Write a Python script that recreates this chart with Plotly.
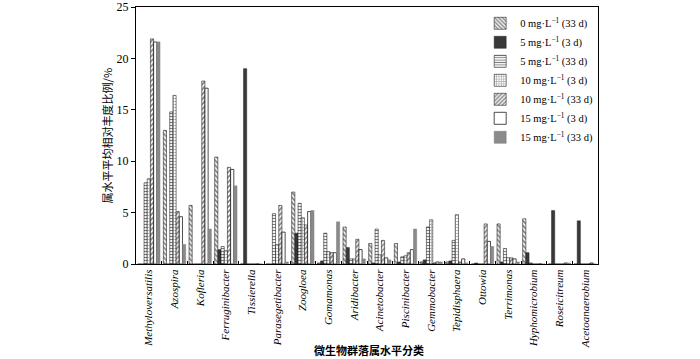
import plotly.graph_objects as go

categories = ["Methyloversatilis", "Azospira", "Kofleria", "Ferruginibacter", "Tissierella",
              "Parasegetibacter", "Zoogloea", "Gomamonas", "Aridibacter", "Acinetobacter",
              "Piscinibacter", "Gemmobacter", "Tepidisphaera", "Ottowia", "Terrimonas",
              "Hyphomicrobium", "Roseicitreum", "Acetoanaerobium"]

series_names = ["0 mg·L<sup>−1</sup> (33 d)", "5 mg·L<sup>−1</sup> (3 d)", "5 mg·L<sup>−1</sup> (33 d)",
                "10 mg·L<sup>−1</sup> (3 d)", "10 mg·L<sup>−1</sup> (33 d)", "15 mg·L<sup>−1</sup> (3 d)",
                "15 mg·L<sup>−1</sup> (33 d)"]

s0_33d = [0, 13.0, 5.7, 10.4, 0, 0, 7.0, 0.1, 3.6, 2.0, 2.0, 0.2, 0.2, 0, 3.9, 4.4, 0, 0]
s5_3d = [0, 0, 0, 1.4, 19.0, 0, 3.0, 0.3, 1.6, 0.1, 0.2, 0.4, 0.3, 0.1, 0.2, 1.1, 5.2, 4.2]
s5_33d = [7.9, 14.8, 0, 1.7, 0, 4.9, 5.9, 3.0, 0.5, 3.4, 0.7, 3.6, 2.3, 0, 1.5, 0.1, 0, 0]
s10_3d = [8.3, 16.4, 0, 1.3, 0, 1.9, 4.5, 1.2, 0.5, 0.9, 0.8, 4.3, 4.8, 0, 0.6, 0, 0, 0]
s10_33d = [21.9, 5.1, 17.8, 9.4, 0, 5.7, 3.8, 1.1, 2.4, 2.3, 1.1, 0.1, 0.2, 3.9, 0.6, 0, 0, 0]
s15_3d = [21.6, 4.6, 17.1, 9.2, 0, 3.1, 5.1, 1.1, 1.4, 0.6, 1.4, 0.2, 0.5, 2.2, 0.5, 0, 0.1, 0.1]
s15_33d = [21.6, 1.9, 3.4, 7.6, 0, 0.2, 5.2, 4.1, 0.5, 0.4, 3.4, 0.2, 0.1, 1.7, 0.2, 0, 0.1, 0]

y_ticks = [0, 5, 10, 15, 20, 25]

series = [s0_33d, s5_3d, s5_33d, s10_3d, s10_33d, s15_3d, s15_33d]

styles = [
    dict(color="white", line=dict(color="black", width=0.5),
         pattern=dict(shape="\\", fgcolor="black", bgcolor="white", size=3.5, solidity=0.5)),
    dict(color="#383838", line=dict(color="#222222", width=0.5)),
    dict(color="white", line=dict(color="black", width=0.5),
         pattern=dict(shape="-", fgcolor="black", bgcolor="white", size=3, solidity=0.4)),
    dict(color="white", line=dict(color="black", width=0.5),
         pattern=dict(shape="+", fgcolor="#555555", bgcolor="white", size=3, solidity=0.45)),
    dict(color="white", line=dict(color="black", width=0.5),
         pattern=dict(shape="/", fgcolor="black", bgcolor="white", size=3.5, solidity=0.5)),
    dict(color="white", line=dict(color="black", width=0.7)),
    dict(color="#8a8a8a", line=dict(color="#7a7a7a", width=0.5)),
]

fig = go.Figure()
for name, vals, st in zip(series_names, series, styles):
    fig.add_trace(go.Bar(x=categories, y=vals, name=name, marker=st))

serif = "Liberation Serif, Times New Roman, serif"
cjk = "Noto Sans CJK SC, sans-serif"

fig.update_layout(
    width=700, height=359,
    margin=dict(l=136, r=102, t=7, b=95, autoexpand=False),
    paper_bgcolor="white", plot_bgcolor="white",
    barmode="group", bargap=0.13, bargroupgap=0,
    showlegend=True,
    legend=dict(x=0.745, y=0.993, xanchor="left", yanchor="top",
                font=dict(family=serif, size=10.5, color="black"),
                bgcolor="rgba(0,0,0,0)", tracegroupgap=0, itemwidth=30),
    font=dict(family=serif, color="black"),
)
fig.update_xaxes(
    type="category", tickson="boundaries", ticks="inside", ticklen=3, tickcolor="black",
    tickangle=-90, tickfont=dict(family=serif, size=11, style="italic", color="black"),
    showline=True, linecolor="black", linewidth=1.2, mirror=True, showgrid=False,
    automargin=False,
)
fig.update_yaxes(
    range=[0, 25], tickvals=y_ticks, ticks="outside", ticklen=4, tickcolor="black",
    tickfont=dict(family=serif, size=12, color="black"),
    showline=True, linecolor="black", linewidth=1.2, mirror=True, showgrid=False, zeroline=False,
    automargin=False,
)
fig.add_annotation(text="微生物群落属水平分类", xref="paper", yref="paper", x=0.505, y=-0.335,
                   xanchor="center", yanchor="middle", showarrow=False,
                   font=dict(family=cjk, size=11, color="black", weight="bold"))
fig.add_annotation(text="属水平平均相对丰度比例/%", xref="paper", yref="paper", x=-0.063, y=0.5,
                   xanchor="center", yanchor="middle", showarrow=False, textangle=-90,
                   font=dict(family=cjk, size=11, color="black"))

fig.write_html("out.html", config={"displayModeBar": False},
               post_script="document.body.style.margin='0';")
